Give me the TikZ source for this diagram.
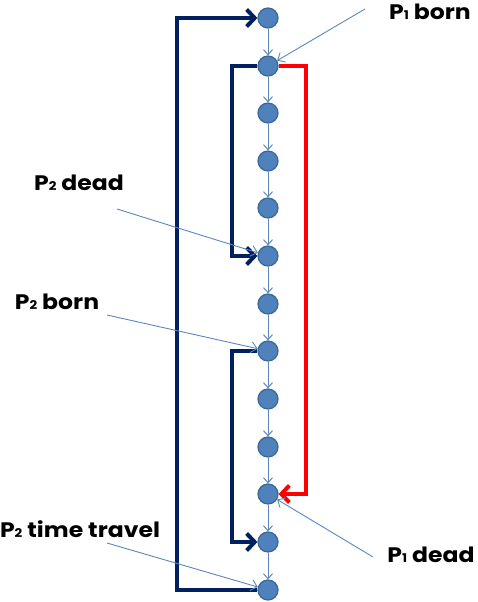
\documentclass[tikz,border=0pt]{standalone}
\usepackage{fontspec}
\setmainfont[FakeStretch=1.12]{Poppins}
\usetikzlibrary{arrows.meta}

\definecolor{dotblue}{HTML}{4F81BD}
\definecolor{dotrim}{HTML}{3A6896}
\definecolor{thinblue}{HTML}{5B86C0}
\definecolor{navy}{HTML}{002060}

\tikzset{
  event/.style={circle, fill=dotblue, draw=dotrim, line width=1.2pt, minimum size=20pt, inner sep=0pt},
  flow/.style={thinblue, line width=1pt, -{Straight Barb[length=5pt,width=9pt]}},
  loopline/.style={navy, line width=4pt, -{Straight Barb[length=8pt,width=17pt]}},
  redline/.style={red, line width=4pt, -{Straight Barb[length=8pt,width=17pt]}},
  note/.style={thinblue, line width=0.9pt, -{Straight Barb[length=6pt,width=11pt]}},
  label/.style={font=\fontsize{21}{21}\selectfont\bfseries, inner sep=0pt}
}
\newcommand{\sub}[1]{{\fontsize{12}{12}\selectfont #1}}

\begin{document}
\begin{tikzpicture}[x=1pt,y=-1pt]
\useasboundingbox (0,0) rectangle (478,602);

% columns of the jumps
\coordinate (outer) at (177,0);
\coordinate (inner) at (232,0);
\coordinate (right) at (306,0);

% time line
\node [event] (t1) at (268,18) {};
\node [event] (t2) at (268,66) {};
\node [event] (t3) at (268,113) {};
\node [event] (t4) at (268,161) {};
\node [event] (t5) at (268,208) {};
\node [event] (t6) at (268,256) {};
\node [event] (t7) at (268,304) {};
\node [event] (t8) at (268,351) {};
\node [event] (t9) at (268,399) {};
\node [event] (t10) at (268,447) {};
\node [event] (t11) at (268,494) {};
\node [event] (t12) at (268,542) {};
\node [event] (t13) at (268,590) {};

\draw [flow] (t1) -- (t2);
\draw [flow] (t2) -- (t3);
\draw [flow] (t3) -- (t4);
\draw [flow] (t4) -- (t5);
\draw [flow] (t5) -- (t6);
\draw [flow] (t6) -- (t7);
\draw [flow] (t7) -- (t8);
\draw [flow] (t8) -- (t9);
\draw [flow] (t9) -- (t10);
\draw [flow] (t10) -- (t11);
\draw [flow] (t11) -- (t12);
\draw [flow] (t12) -- (t13);

% jumps back and forth
\draw [loopline] (t13.west) -- (t13.west -| outer) -- (t1.west -| outer) -- (t1.west);
\draw [loopline] (t2.west) -- (t2.west -| inner) -- (t6.west -| inner) -- (t6.west);
\draw [loopline] (t8.west) -- (t8.west -| inner) -- (t12.west -| inner) -- (t12.west);
\draw [redline] (t2.east) -- (t2.east -| right) -- (t11.east -| right) -- (t11.east);

% labels
\node [label] (p1born) at (430,12) {P\sub{1} born};
\node [label] (p2dead) at (79,183) {P\sub{2} dead};
\node [label] (p2born) at (57,302) {P\sub{2} born};
\node [label] (p2travel) at (80,529) {P\sub{2} time travel};
\node [label] (p1dead) at (431,555) {P\sub{1} dead};

\coordinate (p1bornend) at (365,9);
\coordinate (p2deadend) at (117,209);
\coordinate (p2bornend) at (107,315);
\coordinate (p2travelend) at (107,543);
\coordinate (p1deadend) at (373,557);

\draw [note] (p1bornend) -- (t2);
\draw [note] (p2deadend) -- (t6);
\draw [note] (p2bornend) -- (t8);
\draw [note] (p2travelend) -- (t13);
\draw [note] (p1deadend) -- (t11);

\end{tikzpicture}
\end{document}
